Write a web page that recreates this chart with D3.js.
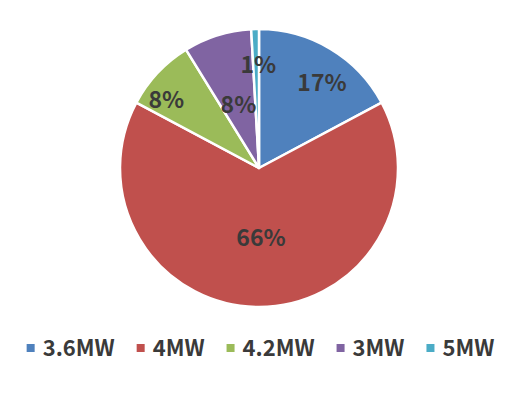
<!DOCTYPE html>
<html>
<head>
<meta charset="utf-8">
<script src="https://cdn.jsdelivr.net/npm/d3@7"></script>
<style>
  html, body { margin: 0; padding: 0; background: #fff; }
  svg { display: block; }
  text { font-family: "Noto Sans CJK SC", "Noto Sans", sans-serif; font-weight: bold; fill: #3a3a3a; }
</style>
</head>
<body>
<svg id="chart" width="527" height="398"></svg>
<script>
// Data
const categories = ["3.6MW", "4MW", "4.2MW", "3MW", "5MW"];
const values = [17.2, 65.6, 8.4, 7.9, 0.9];
const colors = ["#4F81BD", "#C0504D", "#9BBB59", "#8064A2", "#4BACC6"];

// Layout (label placement: radius and angular offset in degrees)
const labelRadius = [106, 70, 115, 67, 103];
const labelAngleOffset = [5.5, -1.6, -6.9, -0.4, 1.2];

const svg = d3.select("#chart");
const cx = 259, cy = 168, R = 139;
const g = svg.append("g").attr("transform", `translate(${cx},${cy})`);

const pie = d3.pie().sort(null).value(d => d.v);
const data = categories.map((c, i) => ({ c, v: values[i], i }));
const arcs = pie(data);
const arc = d3.arc().innerRadius(0).outerRadius(R);

g.selectAll("path.slice").data(arcs).enter().append("path")
  .attr("class", "slice")
  .attr("d", arc)
  .attr("fill", d => colors[d.data.i])
  .attr("stroke", "#fff")
  .attr("stroke-width", 2.5)
  .attr("stroke-linejoin", "round");

const total = d3.sum(values);
g.selectAll("text.lbl").data(arcs).enter().append("text")
  .attr("class", "lbl")
  .attr("transform", d => {
    const i = d.data.i;
    const a = (d.startAngle + d.endAngle) / 2 + labelAngleOffset[i] * Math.PI / 180;
    const r = labelRadius[i];
    const la = d3.arc().innerRadius(r).outerRadius(r);
    const p = la.centroid({ startAngle: a, endAngle: a });
    return `translate(${p[0]},${p[1]})`;
  })
  .attr("text-anchor", "middle")
  .attr("dy", "0.36em")
  .style("font-size", "23px")
  .text(d => Math.round(d.data.v / total * 100) + "%");

// Legend
const legend = svg.append("g");
const legY = 348;
const sq = 8, gapText = 8, gapItem = 22;
const items = legend.selectAll("g.item").data(categories).enter().append("g").attr("class", "item");
items.append("rect").attr("width", sq).attr("height", sq).attr("y", -sq / 2)
  .attr("fill", (d, i) => colors[i]);
items.append("text").attr("x", sq + gapText).attr("dy", "0.36em")
  .style("font-size", "22px").text(d => d);
const widths = [];
items.each(function () {
  const w = sq + gapText + d3.select(this).select("text").node().getComputedTextLength();
  widths.push(w);
});
const totalW = d3.sum(widths) + gapItem * (widths.length - 1);
let start = 260.5 - totalW / 2;
items.attr("transform", (d, i) => {
  const t = `translate(${start},${legY})`;
  start += widths[i] + gapItem;
  return t;
});
</script>
</body>
</html>
